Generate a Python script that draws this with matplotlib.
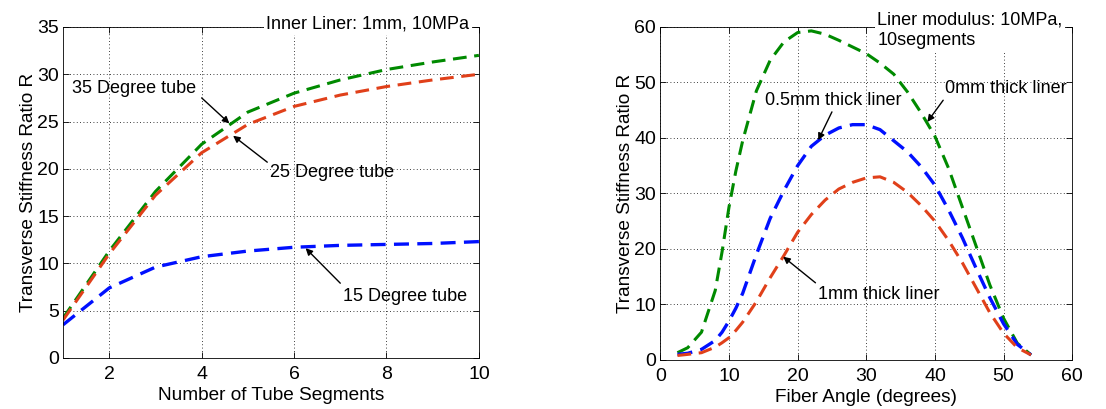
import numpy as np
import matplotlib
matplotlib.use("Agg")
import matplotlib.pyplot as plt

plt.rcParams['font.family'] = ['Liberation Sans', 'DejaVu Sans']

# left panel: stiffness ratio vs number of segments
segments = [1, 2, 3, 4, 5, 6, 7, 8, 9, 10]
r_35deg = [4.2, 11.3, 17.6, 22.6, 26.0, 28.0, 29.4, 30.5, 31.3, 32.0]
r_25deg = [4.0, 11.0, 17.2, 21.7, 24.7, 26.6, 27.8, 28.7, 29.4, 30.0]
r_15deg = [3.5, 7.4, 9.6, 10.7, 11.3, 11.7, 11.9, 12.0, 12.1, 12.3]

# right panel: stiffness ratio vs fiber angle
angle = [2.5, 4, 6, 8, 9, 10, 11, 12, 14, 16, 18, 20, 22, 24, 26, 28, 30,
         32, 34, 36, 38, 40, 42, 44, 46, 48, 50, 52, 54]
r_0mm = [1.3, 2.2, 5.0, 12.5, 19.5, 27.5, 34.0, 39.5, 48.5, 54.0, 57.3, 59.0,
         59.3, 58.7, 57.6, 56.4, 55.2, 53.5, 51.5, 48.3, 44.5, 40.3, 34.5,
         27.5, 20.5, 13.5, 7.5, 3.0, 0.9]
r_05mm = [1.0, 1.2, 1.9, 3.5, 5.0, 7.0, 9.3, 12.0, 19.0, 25.5, 30.5, 35.0,
          38.5, 40.5, 41.8, 42.4, 42.4, 41.5, 39.5, 37.5, 34.8, 31.5, 27.0,
          22.0, 16.5, 11.2, 6.5, 2.8, 0.9]
r_1mm = [0.8, 1.0, 1.3, 2.3, 3.1, 4.0, 5.3, 6.8, 10.5, 14.8, 18.8, 23.0,
         26.2, 28.8, 30.8, 32.0, 32.8, 33.0, 32.0, 30.2, 27.8, 25.0, 21.5,
         17.5, 13.0, 8.5, 4.8, 2.2, 0.9]

GREEN = '#008a00'
RED = '#e0401a'
BLUE = '#0010ff'
DASH = (4.5, 2.5)
TFS = 14     # tick labels
LFS = 13.7   # axis labels
AFS = 13     # annotations

fig = plt.figure(figsize=(11.06, 4.09), dpi=100)
ax1 = fig.add_axes([0.057, 0.125, 0.376, 0.809])
ax2 = fig.add_axes([0.597, 0.120, 0.3725, 0.814])

def style(ax):
    ax.grid(True, color='black', linestyle=(0, (1, 3)), linewidth=0.6)
    ax.tick_params(direction='in', top=True, right=True, labelsize=TFS,
                   length=4, width=0.6, pad=3)
    ax.tick_params(axis='x', pad=6)
    for s in ax.spines.values():
        s.set_linewidth(0.6)
    ax.set_ylabel('Transverse Stiffness Ratio R', fontsize=LFS, labelpad=0)

arrow = dict(arrowstyle='-|>', color='black', lw=1, mutation_scale=10,
             shrinkA=0, shrinkB=0)

# ---- left
ax1.plot(segments, r_35deg, color=GREEN, lw=2.2, dashes=DASH)
ax1.plot(segments, r_25deg, color=RED, lw=2.2, dashes=DASH)
ax1.plot(segments, r_15deg, color=BLUE, lw=2.4, dashes=DASH)
ax1.set_xlim(1, 10)
ax1.set_ylim(0, 35)
ax1.set_xticks([2, 4, 6, 8, 10])
ax1.set_yticks(range(0, 36, 5))
style(ax1)
ax1.set_xlabel('Number of Tube Segments', fontsize=LFS, labelpad=3)

ax1.annotate('', xy=(4.6, 24.8), xytext=(4.0, 27.5), arrowprops=arrow)
ax1.text(1.2, 28.5, '35 Degree tube', fontsize=AFS, va='center')
ax1.annotate('', xy=(4.68, 23.5), xytext=(5.42, 20.7), arrowprops=arrow)
ax1.text(5.48, 19.6, '25 Degree tube', fontsize=AFS, va='center')
ax1.annotate('', xy=(6.25, 11.6), xytext=(7.0, 7.9), arrowprops=arrow)
ax1.text(7.06, 6.45, '15 Degree tube', fontsize=AFS, va='center')
ax1.text(5.4, 35.3, 'Inner Liner: 1mm, 10MPa', fontsize=AFS, va='center',
         bbox=dict(facecolor='white', edgecolor='none', pad=1.5),
         clip_on=False, zorder=5)

# ---- right
ax2.plot(angle, r_0mm, color=GREEN, lw=2.2, dashes=DASH)
ax2.plot(angle, r_05mm, color=BLUE, lw=2.4, dashes=DASH)
ax2.plot(angle, r_1mm, color=RED, lw=2.2, dashes=DASH)
ax2.set_xlim(0, 60)
ax2.set_ylim(0, 60)
ax2.set_xticks(range(0, 61, 10))
ax2.set_yticks(range(0, 61, 10))
style(ax2)
ax2.set_xlabel('Fiber Angle (degrees)', fontsize=LFS, labelpad=3)

ax2.annotate('', xy=(38.9, 42.9), xytext=(41.2, 46.8), arrowprops=arrow)
ax2.text(41.5, 49.0, '0mm thick liner', fontsize=AFS, va='center')
ax2.annotate('', xy=(23.0, 39.6), xytext=(25.0, 44.7), arrowprops=arrow)
ax2.text(15.3, 46.8, '0.5mm thick liner', fontsize=AFS, va='center')
ax2.annotate('', xy=(17.9, 18.6), xytext=(22.6, 13.9), arrowprops=arrow)
ax2.text(23.0, 11.7, '1mm thick liner', fontsize=AFS, va='center')
ax2.text(31.6, 59.4, 'Liner modulus: 10MPa,\n10segments', fontsize=AFS,
         va='center', linespacing=1.3,
         bbox=dict(facecolor='white', edgecolor='none', pad=1.5),
         clip_on=False, zorder=5)

fig.savefig('out.png', dpi=100)
